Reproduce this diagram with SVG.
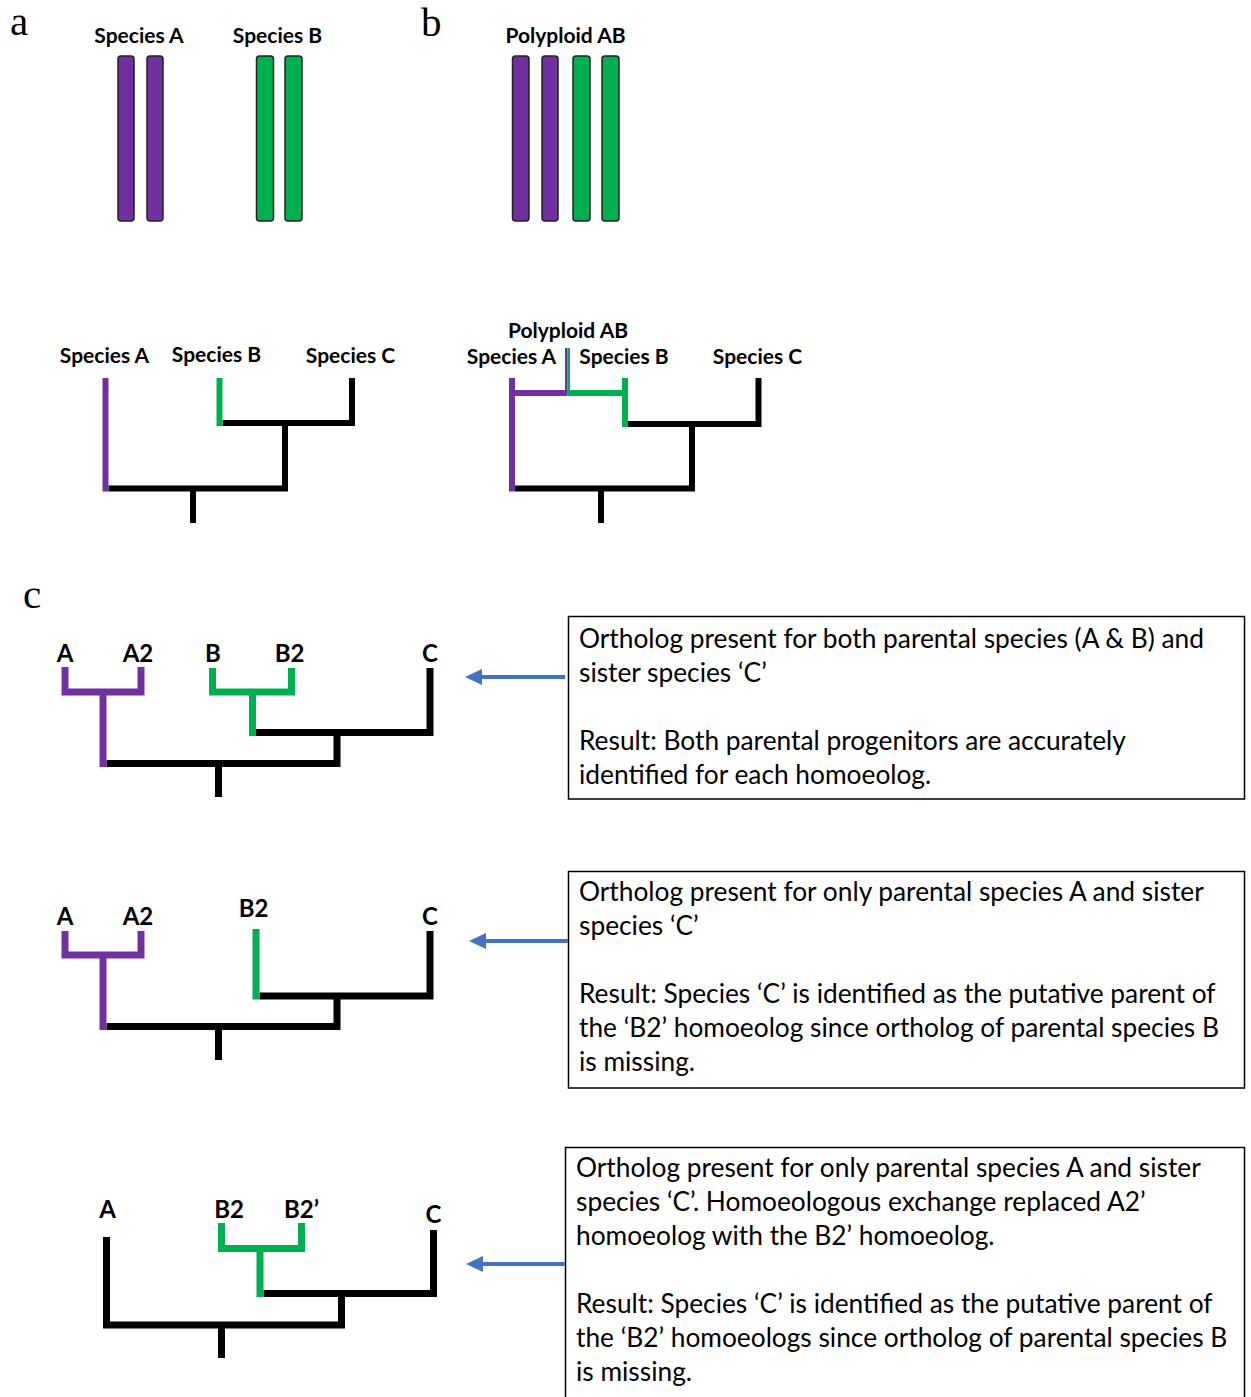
<svg xmlns="http://www.w3.org/2000/svg" width="1251" height="1397" viewBox="0 0 1251 1397">
<defs>
<style>
.lbl{font-family:Lato,"Open Sans","Liberation Sans",sans-serif;font-weight:bold;fill:#000;text-anchor:middle}
.s20{font-size:21px}
.s24{font-size:24px}
.panel{font-family:"Liberation Serif","DejaVu Serif",serif;font-size:41px;fill:#000}
.box{fill:#fff;stroke:#000;stroke-width:1.5}
.bt{font-family:Lato,"Open Sans","Liberation Sans",sans-serif;font-size:26.3px;fill:#000}
.chrA{fill:#7030A0;stroke:#222;stroke-width:1.5}
.chrB{fill:#00B050;stroke:#222;stroke-width:1.5}
.k{fill:none;stroke:#000;stroke-linejoin:miter;stroke-linecap:butt}
.p{fill:none;stroke:#7030A0;stroke-linejoin:miter;stroke-linecap:butt}
.g{fill:none;stroke:#00B050;stroke-linejoin:miter;stroke-linecap:butt}
.w6{stroke-width:6}
.w7{stroke-width:7}
.arr{stroke:#4472C4;stroke-width:4;fill:none;marker-end:url(#ah)}
</style>
<marker id="ah" viewBox="0 0 17 16" refX="12" refY="8" markerWidth="17" markerHeight="16" markerUnits="userSpaceOnUse" orient="auto">
<path d="M0 0 L17 8 L0 16 Z" fill="#4472C4"/>
</marker>
</defs>
<rect width="1251" height="1397" fill="#fff"/>

<!-- panel labels -->
<text class="panel" x="10" y="35">a</text>
<text class="panel" x="421" y="36">b</text>
<text class="panel" x="23" y="608">c</text>

<!-- panel a chromosomes -->
<g id="chrom-a">
<text class="lbl s20" x="139" y="43">Species A</text>
<text class="lbl s20" x="277.5" y="43">Species B</text>
<rect class="chrA" x="118" y="56" width="16" height="165" rx="3"/>
<rect class="chrA" x="147" y="56" width="16" height="165" rx="3"/>
<rect class="chrB" x="256.5" y="56" width="17" height="165" rx="3"/>
<rect class="chrB" x="285" y="56" width="17" height="165" rx="3"/>
</g>

<!-- panel b chromosomes -->
<g id="chrom-b">
<text class="lbl s20" x="565.5" y="43">Polyploid AB</text>
<rect class="chrA" x="512.5" y="56" width="16.5" height="165" rx="3"/>
<rect class="chrA" x="542" y="56" width="16" height="165" rx="3"/>
<rect class="chrB" x="573" y="56" width="17" height="165" rx="3"/>
<rect class="chrB" x="602" y="56" width="17" height="165" rx="3"/>
</g>

<!-- tree a -->
<g id="tree-a">
<text class="lbl s20" x="104.5" y="363">Species A</text>
<text class="lbl s20" x="216.5" y="362">Species B</text>
<text class="lbl s20" x="350.5" y="363">Species C</text>
<path class="k w6" d="M108.5 488.5 H285 V423"/>
<path class="k w6" d="M222.5 423 H352 V378"/>
<path class="k w6" d="M193 488.5 V523"/>
<path class="p w6" d="M105.5 378 V491.5"/>
<path class="g w6" d="M219.5 378 V426"/>
</g>

<!-- tree b -->
<g id="tree-b">
<text class="lbl s20" x="568" y="338">Polyploid AB</text>
<text class="lbl s20" x="511.5" y="364">Species A</text>
<text class="lbl s20" x="624" y="364">Species B</text>
<text class="lbl s20" x="757.5" y="364">Species C</text>
<path class="k w6" d="M515 488.5 H692 V424"/>
<path class="k w6" d="M628 424 H758.5 V378"/>
<path class="k w6" d="M601 488.5 V523"/>
<path class="p w6" d="M512 378 V491.5"/>
<path class="p w6" d="M509 393 H567.5"/>
<path class="g w6" d="M567.5 393 H628"/>
<path class="g w6" d="M625 378 V427"/>
<rect x="565" y="348" width="2.5" height="45" fill="#7030A0"/>
<rect x="567.5" y="348" width="2.5" height="45" fill="#00B050"/>
</g>

<!-- tree c1 -->
<g id="tree-c1">
<text class="lbl s24" x="65" y="662">A</text>
<text class="lbl s24" x="138" y="662">A2</text>
<text class="lbl s24" x="213" y="662">B</text>
<text class="lbl s24" x="289.5" y="662">B2</text>
<text class="lbl s24" x="430" y="662">C</text>
<path class="k w7" d="M106.5 763.5 H337 V732.5"/>
<path class="k w7" d="M256 732.5 H430 V668"/>
<path class="k w7" d="M218.5 763.5 V797"/>
<path class="p w7" d="M65 667 V692 H141 V667"/>
<path class="p w7" d="M103 692 V767"/>
<path class="g w7" d="M212.5 668 V692 H291.5 V668"/>
<path class="g w7" d="M252.5 692 V736"/>
</g>

<!-- tree c2 -->
<g id="tree-c2">
<text class="lbl s24" x="65" y="925">A</text>
<text class="lbl s24" x="138" y="925">A2</text>
<text class="lbl s24" x="253.5" y="917">B2</text>
<text class="lbl s24" x="430" y="925">C</text>
<path class="k w7" d="M106.5 1026.5 H337 V996"/>
<path class="k w7" d="M259.5 996 H430 V931"/>
<path class="k w7" d="M218.5 1026.5 V1060"/>
<path class="p w7" d="M65 931 V955 H141 V931"/>
<path class="p w7" d="M103 955 V1030"/>
<path class="g w7" d="M256 929 V999.5"/>
</g>

<!-- tree c3 -->
<g id="tree-c3">
<text class="lbl s24" x="107.5" y="1218">A</text>
<text class="lbl s24" x="229" y="1218">B2</text>
<text class="lbl s24" x="301.5" y="1218">B2’</text>
<text class="lbl s24" x="433.5" y="1223">C</text>
<path class="k w7" d="M106.5 1237 V1325 H341.5 V1293.5"/>
<path class="k w7" d="M263.5 1293.5 H433.5 V1230"/>
<path class="k w7" d="M221.5 1325 V1358"/>
<path class="g w7" d="M221.5 1223 V1248.5 H301.5 V1223"/>
<path class="g w7" d="M260 1248.5 V1297"/>
</g>

<!-- text boxes -->
<g id="box1">
<rect class="box" x="568.5" y="616.5" width="676" height="182.5"/>
<text class="bt" x="579" y="648">Ortholog present for both parental species (A &amp; B) and</text>
<text class="bt" x="579" y="682">sister species ‘C’</text>
<text class="bt" x="579" y="750">Result: Both parental progenitors are accurately</text>
<text class="bt" x="579" y="784">identified for each homoeolog.</text>
</g>
<g id="box2">
<rect class="box" x="568.5" y="871.5" width="676" height="216.5"/>
<text class="bt" x="579" y="901">Ortholog present for only parental species A and sister</text>
<text class="bt" x="579" y="935">species ‘C’</text>
<text class="bt" x="579" y="1003">Result: Species ‘C’ is identified as the putative parent of</text>
<text class="bt" x="579" y="1037">the ‘B2’ homoeolog since ortholog of parental species B</text>
<text class="bt" x="579" y="1071">is missing.</text>
</g>
<g id="box3">
<rect class="box" x="565.5" y="1147.5" width="679" height="260"/>
<text class="bt" x="576" y="1177">Ortholog present for only parental species A and sister</text>
<text class="bt" x="576" y="1211">species ‘C’. Homoeologous exchange replaced A2’</text>
<text class="bt" x="576" y="1245">homoeolog with the B2’ homoeolog.</text>
<text class="bt" x="576" y="1313">Result: Species ‘C’ is identified as the putative parent of</text>
<text class="bt" x="576" y="1347">the ‘B2’ homoeologs since ortholog of parental species B</text>
<text class="bt" x="576" y="1381">is missing.</text>
</g>

<!-- connectors -->
<g id="connectors">
<path class="arr" d="M565 677 H470"/>
<path class="arr" d="M568 941 H474"/>
<path class="arr" d="M565 1264 H471"/>
</g>
</svg>
